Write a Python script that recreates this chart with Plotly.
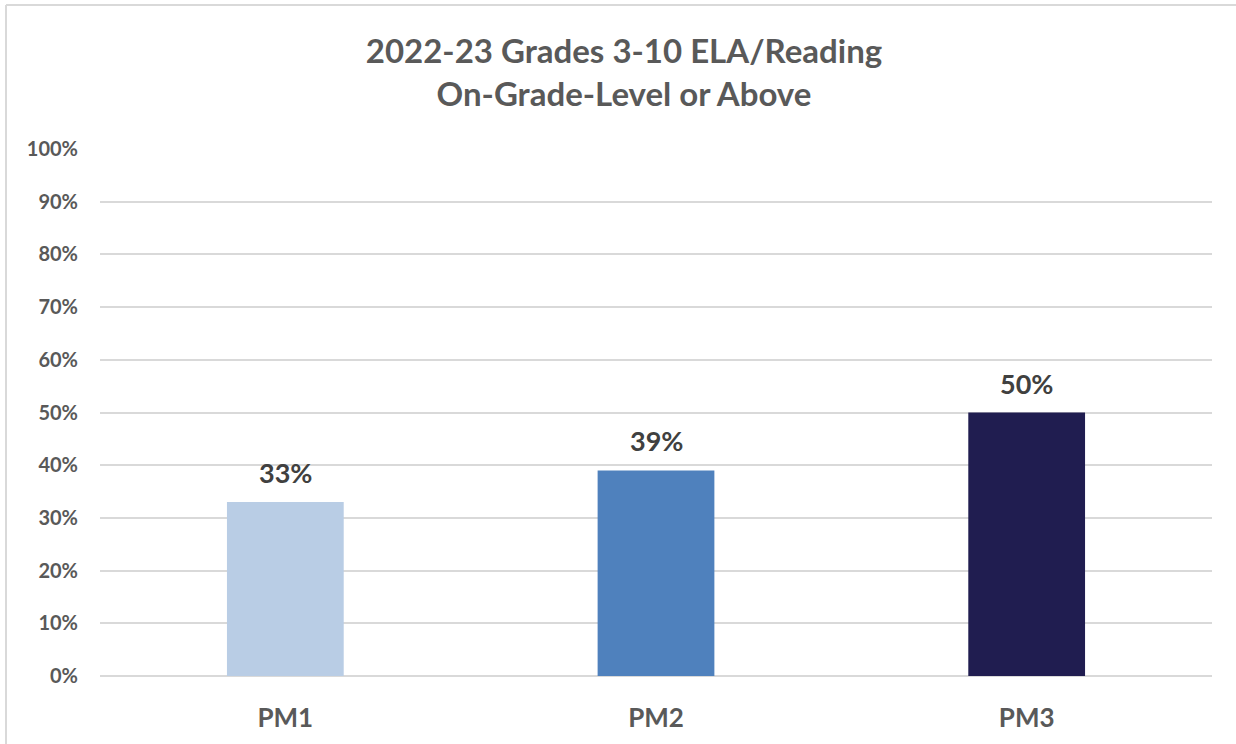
import plotly.graph_objects as go

# data
categories = ["PM1", "PM2", "PM3"]
values = [0.33, 0.39, 0.50]
bar_colors = ["#b9cde5", "#4f81bd", "#201d50"]

title_lines = ["2022-23 Grades 3-10 ELA/Reading", "On-Grade-Level or Above"]

W, H = 1236, 744
m_l, m_r, m_t, m_b = 100, 24, 149, 68
font_fam = "Lato, Carlito, 'Open Sans', sans-serif"

fig = go.Figure()
fig.add_trace(go.Bar(
    x=categories, y=values,
    marker=dict(color=bar_colors, line=dict(width=0)),
    width=0.315,
    hoverinfo="x+y",
))

# data labels above bars
for c, v in zip(categories, values):
    fig.add_annotation(
        x=c, y=v, text=f"{v:.0%}", showarrow=False,
        yanchor="bottom", yshift=11,
        font=dict(family=font_fam, size=27, color="#404040", weight="bold"),
    )

# chart border: only the top and left edges are visible in the original crop
pw = W - m_l - m_r
ph = H - m_t - m_b
bx = (6 - m_l) / pw
by = 1 + (m_t - 5) / ph
border = dict(color="#d9d9d9", width=2)
fig.add_shape(type="line", xref="paper", yref="paper",
              x0=bx, x1=(W - m_l) / pw, y0=by, y1=by, line=border, layer="below")
fig.add_shape(type="line", xref="paper", yref="paper",
              x0=bx, x1=bx, y0=by, y1=-(m_b + 5) / ph, line=border, layer="below")

fig.update_layout(
    width=W, height=H,
    margin=dict(l=m_l, r=m_r, t=m_t, b=m_b),
    paper_bgcolor="white", plot_bgcolor="white",
    showlegend=False,
    title=dict(
        text="<br>".join(title_lines),
        x=624 / W, xanchor="center", xref="container",
        y=1 - 63 / H, yanchor="top", yref="container",
        font=dict(family=font_fam, size=33, color="#595959", weight="bold"),
    ),
    font=dict(family=font_fam),
)
fig.update_xaxes(
    showgrid=False, showline=False,
    ticklabelstandoff=24,
    tickfont=dict(family=font_fam, size=26, color="#595959", weight="bold"),
)
fig.update_yaxes(
    range=[0, 1.0], dtick=0.1, tickformat=".0%",
    showgrid=True, gridcolor="#d9d9d9", gridwidth=2,
    zeroline=True, zerolinecolor="#d9d9d9", zerolinewidth=2,
    ticklabelstandoff=21,
    tickfont=dict(family=font_fam, size=20, color="#595959", weight="bold"),
)

# drop the browser's default body margin so the figure sits at (0, 0)
fig.write_html(
    "out.html",
    config={"displayModeBar": False},
    post_script="document.body.style.margin='0';",
)
